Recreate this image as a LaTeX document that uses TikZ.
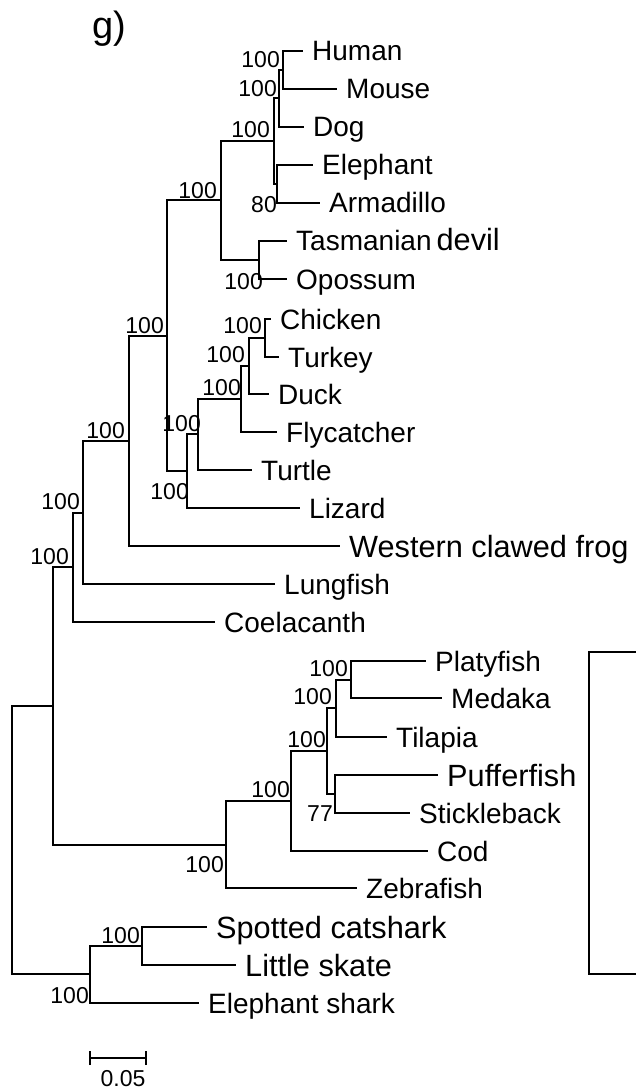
\documentclass[tikz,border=0pt]{standalone}
\usepackage{fontspec}
\setmainfont{Liberation Sans}
\usetikzlibrary{positioning}
\begin{document}
\begin{tikzpicture}[x=1pt,y=-1pt,
  br/.style={line width=2.4pt},
  leaf/.style={font=\fontsize{28}{30}\selectfont, inner sep=0pt, text height=20pt, text depth=0pt},
  bigleaf/.style={font=\fontsize{30.7}{32}\selectfont, inner sep=0pt, text height=22pt, text depth=0pt},
  boot/.style={font=\fontsize{23}{25}\selectfont, anchor=east, inner sep=0pt},
  frame/.style={line width=1.8pt}]
\useasboundingbox (0,0) rectangle (635,1091);

% panel letter
\node[font=\fontsize{38}{40}\selectfont, anchor=base west, inner sep=0pt] (panel) at (92,39) {g)};

% leaf tips
\coordinate (tHuman) at (303,51);
\coordinate (tMouse) at (337,89);
\coordinate (tDog) at (304,127);
\coordinate (tElephant) at (313,165);
\coordinate (tArmadillo) at (320,203);
\coordinate (tTas) at (287,241);
\coordinate (tOpo) at (287,279);
\coordinate (tChicken) at (271,319);
\coordinate (tTurkey) at (279,357);
\coordinate (tDuck) at (269,394);
\coordinate (tFly) at (277,432);
\coordinate (tTurtle) at (252,470);
\coordinate (tLizard) at (300,508);
\coordinate (tFrog) at (340,546);
\coordinate (tLung) at (275,584);
\coordinate (tCoel) at (215,622);
\coordinate (tPlaty) at (426,661);
\coordinate (tMedaka) at (442,698);
\coordinate (tTilapia) at (387,737);
\coordinate (tPuffer) at (438,775);
\coordinate (tStickle) at (410,813);
\coordinate (tCod) at (428,851);
\coordinate (tZebra) at (357,888);
\coordinate (tSpotted) at (207,927);
\coordinate (tSkate) at (236,965);
\coordinate (tEshark) at (199,1003);

% leaf labels
\node[leaf, right=9pt of tHuman] (Human) {Human};
\node[leaf, right=9pt of tMouse] (Mouse) {Mouse};
\node[leaf, right=9pt of tDog] (Dog) {Dog};
\node[leaf, right=9pt of tElephant] (Elephant) {Elephant};
\node[leaf, right=9pt of tArmadillo] (Armadillo) {Armadillo};
\node[leaf, right=9pt of tTas] (Tas) {Tasmanian\kern5pt{\fontsize{30.7}{32}\selectfont devil}};
\node[leaf, right=9pt of tOpo] (Opo) {Opossum};
\node[leaf, right=9pt of tChicken] (Chicken) {Chicken};
\node[leaf, right=9pt of tTurkey] (Turkey) {Turkey};
\node[leaf, right=9pt of tDuck] (Duck) {Duck};
\node[leaf, right=9pt of tFly] (Fly) {Flycatcher};
\node[leaf, right=9pt of tTurtle] (Turtle) {Turtle};
\node[leaf, right=9pt of tLizard] (Lizard) {Lizard};
\node[bigleaf, right=9pt of tFrog] (Frog) {Western clawed frog};
\node[leaf, right=9pt of tLung] (Lung) {Lungfish};
\node[leaf, right=9pt of tCoel] (Coel) {Coelacanth};
\node[leaf, right=9pt of tPlaty] (Platy) {Platyfish};
\node[leaf, right=9pt of tMedaka] (Medaka) {Medaka};
\node[leaf, right=9pt of tTilapia] (Tilapia) {Tilapia};
\node[bigleaf, right=9pt of tPuffer] (Puffer) {Pufferfish};
\node[leaf, right=9pt of tStickle] (Stickle) {Stickleback};
\node[leaf, right=9pt of tCod] (Cod) {Cod};
\node[leaf, right=9pt of tZebra] (Zebra) {Zebrafish};
\node[bigleaf, right=9pt of tSpotted] (Spotted) {Spotted catshark};
\node[bigleaf, right=9pt of tSkate] (Skate) {Little skate};
\node[leaf, right=9pt of tEshark] (Eshark) {Elephant shark};

% internal nodes
\coordinate (A) at (283,70);
\coordinate (B) at (279,98);
\coordinate (C) at (277,184);
\coordinate (D) at (274,141);
\coordinate (E) at (259,260);
\coordinate (F) at (221,200);
\coordinate (G) at (265,338);
\coordinate (H) at (249,366);
\coordinate (I) at (241,399);
\coordinate (J) at (198,434);
\coordinate (K) at (187,471);
\coordinate (L) at (167,336);
\coordinate (M) at (129,441);
\coordinate (N) at (83,513);
\coordinate (O) at (73,567);
\coordinate (P) at (351,680);
\coordinate (Q) at (336,708);
\coordinate (R) at (335,794);
\coordinate (S) at (327,751);
\coordinate (T) at (291,801);
\coordinate (U) at (226,845);
\coordinate (V) at (53,706);
\coordinate (W) at (142,946);
\coordinate (X) at (90,974);
\coordinate (Root) at (12,840);

% branches
\foreach \p/\c in {A/tHuman, A/tMouse, B/A, B/tDog, C/tElephant, C/tArmadillo,
  D/B, D/C, E/tTas, E/tOpo, F/D, F/E, G/tChicken, G/tTurkey, H/G, H/tDuck,
  I/H, I/tFly, J/I, J/tTurtle, K/J, K/tLizard, L/F, L/K, M/L, M/tFrog,
  N/M, N/tLung, O/N, O/tCoel, P/tPlaty, P/tMedaka, Q/P, Q/tTilapia,
  R/tPuffer, R/tStickle, S/Q, S/R, T/S, T/tCod, U/T, U/tZebra, V/O, V/U,
  W/tSpotted, W/tSkate, X/W, X/tEshark, Root/V, Root/X}
  \draw[br] (\p) |- (\c);

% bootstrap values
\node[boot] (bA) at (280,59.5) {100};
\node[boot] (bB) at (277,88.5) {100};
\node[boot] (bD) at (270,130) {100};
\node[boot] (bC) at (277,205) {80};
\node[boot] (bF) at (217,191) {100};
\node[boot] (bE) at (263,281.5) {100};
\node[boot] (bG) at (262,326) {100};
\node[boot] (bH) at (245,354.5) {100};
\node[boot] (bI) at (241,388) {100};
\node[boot] (bJ) at (201,424) {100};
\node[boot] (bL) at (164,325.5) {100};
\node[boot] (bK) at (189,492) {100};
\node[boot] (bM) at (125,430.5) {100};
\node[boot] (bN) at (80,502) {100};
\node[boot] (bO) at (69,557) {100};
\node[boot] (bP) at (348,669) {100};
\node[boot] (bQ) at (332,697) {100};
\node[boot] (bS) at (326,739.5) {100};
\node[boot] (bR) at (333,814) {77};
\node[boot] (bT) at (290,790) {100};
\node[boot] (bU) at (224,864.5) {100};
\node[boot] (bW) at (140,935.5) {100};
\node[boot] (bX) at (89,995.5) {100};

% side frame
\coordinate (fTop) at (640,652);
\coordinate (fBot) at (640,974);
\draw[frame] (fTop) -| (589,974) -- (fBot);

% scale bar
\coordinate (s1) at (90,1058);
\coordinate (s2) at (146,1058);
\draw[br] (s1) -- (s2);
\draw[br] ([yshift=-7pt]s1) -- ([yshift=7pt]s1);
\draw[br] ([yshift=-7pt]s2) -- ([yshift=7pt]s2);
\node[font=\fontsize{23}{25}\selectfont, inner sep=0pt] (scale) at (123,1078.5) {0.05};
\end{tikzpicture}
\end{document}
